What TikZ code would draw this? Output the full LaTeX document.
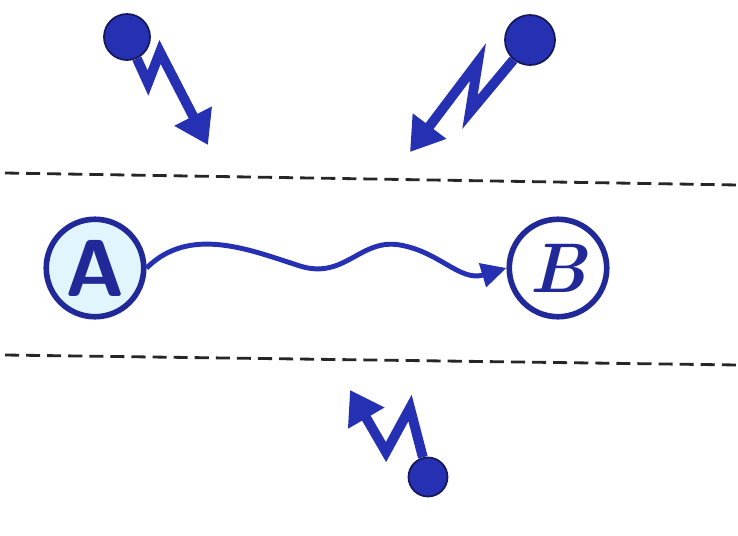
\documentclass[tikz,border=0pt]{standalone}
\usetikzlibrary{arrows.meta}
\definecolor{inkblue}{RGB}{38,48,178}
\definecolor{inkdark}{RGB}{22,24,90}
\begin{document}
\begin{tikzpicture}[x=0.02cm,y=-0.02cm,
    ball/.style={circle,draw=inkdark,line width=1pt,fill=inkblue,inner sep=0pt},
    bolt/.style={draw=inkblue,line width=5.6pt,line join=miter,
      -{Triangle[length=0.65cm,width=0.8cm,fill=inkblue]}},
    party/.style={circle,draw=inkblue!85!black,line width=3.2pt,minimum size=1.95cm,inner sep=0pt},
    border/.style={black!85,line width=1.6pt,dash pattern=on 8pt off 4pt}]
  \useasboundingbox (0,0) rectangle (738,535);
  % channel borders
  \coordinate (tl) at (5,173);
  \coordinate (tr) at (738,185);
  \coordinate (bl) at (5,355);
  \coordinate (br) at (738,365);
  \draw[border] (tl) -- (tr);
  \draw[border] (bl) -- (br);
  % the two parties
  \node[party,fill=cyan!12] (A) at (95,268)
    {\fontsize{46}{46}\selectfont\sffamily\bfseries\color{inkblue!85!black}A};
  \node[party,fill=white] (B) at (558,268)
    {\fontsize{40}{40}\selectfont\bfseries\itshape\color{inkblue!85!black}B};
  \draw[inkblue,line width=2.8pt,-{Triangle[length=0.5cm,width=0.48cm]}]
    (A.east) .. controls (190,225) and (250,250) .. (300,266)
    .. controls (345,280) and (360,238) .. (400,245)
    .. controls (440,252) and (460,282) .. (B.west);
  % outside sources
  \node[ball,minimum size=0.92cm] (src1) at (127,37) {};
  \coordinate (k11) at (148,83);
  \coordinate (k12) at (160,52);
  \coordinate (t1) at (208,145);
  \draw[bolt] (src1) -- (k11) -- (k12) -- (t1);
  \node[ball,minimum size=1.0cm] (src2) at (530,40) {};
  \coordinate (k21) at (470,112);
  \coordinate (k22) at (478,62);
  \coordinate (t2) at (410,152);
  \draw[bolt] (src2) -- (k21) -- (k22) -- (t2);
  \node[ball,minimum size=0.78cm] (src3) at (428,477) {};
  \coordinate (k31) at (410,408);
  \coordinate (k32) at (386,452);
  \coordinate (t3) at (350,390);
  \draw[bolt] (src3) -- (k31) -- (k32) -- (t3);
\end{tikzpicture}
\end{document}
